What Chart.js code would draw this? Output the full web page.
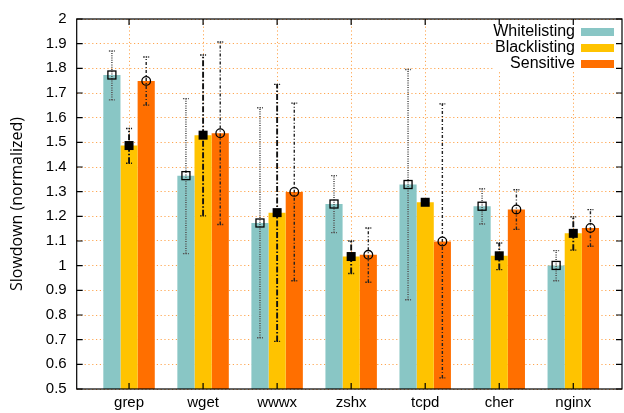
<!DOCTYPE html>
<html lang="en">
<head>
    <meta charset="UTF-8">
    <title>Slowdown</title>
    <script src="https://cdn.jsdelivr.net/npm/chart.js"></script>
    <style>
        body { margin: 0; background: #fff; }
        #wrap { width: 624px; height: 413px; }
    </style>
</head>
<body>
    <div id="wrap"><canvas id="slowChart"></canvas></div>

    <script>
        const categories = ["grep", "wget", "wwwx", "zshx", "tcpd", "cher", "nginx"];
        const seriesNames = ["Whitelisting", "Blacklisting", "Sensitive"];

        const whitelisting = [1.773, 1.365, 1.173, 1.250, 1.329, 1.241, 1.001];
        const whiteLow     = [1.672, 1.049, 0.708, 1.134, 0.862, 1.169, 0.939];
        const whiteHigh    = [1.870, 1.677, 1.640, 1.365, 1.795, 1.312, 1.061];

        const blacklisting = [1.487, 1.529, 1.215, 1.037, 1.257, 1.040, 1.131];
        const blackLow     = [1.415, 1.202, 0.693, 0.968, 1.252, 0.984, 1.063];
        const blackHigh    = [1.556, 1.854, 1.735, 1.100, 1.262, 1.092, 1.198];

        const sensitive    = [1.749, 1.537, 1.299, 1.044, 1.098, 1.228, 1.153];
        const sensLow      = [1.651, 1.167, 0.939, 0.933, 0.545, 1.147, 1.079];
        const sensHigh     = [1.846, 1.907, 1.659, 1.153, 1.656, 1.308, 1.227];

        const yTicks = [0.5, 0.6, 0.7, 0.8, 0.9, 1, 1.1, 1.2, 1.3, 1.4, 1.5, 1.6, 1.7, 1.8, 1.9, 2];

        const colors = ["#89c6c5", "#ffc300", "#ff6f00"];
        const lows = [whiteLow, blackLow, sensLow];
        const highs = [whiteHigh, blackHigh, sensHigh];
        // error bar line styles per series
        const errStyles = [
            { color: "#555", width: 1.6, dash: [1, 1.3] },
            { color: "#111", width: 1.9, dash: [6, 2, 1.5, 2] },
            { color: "#222", width: 1.4, dash: [3, 2, 1, 2] }
        ];
        const gridColor = "rgba(255, 150, 50, 0.85)";

        function toPoints(values) {
            return values.map((v, i) => ({ x: i, y: v }));
        }

        const errorBars = {
            id: "errorBars",
            afterDatasetsDraw(chart) {
                const ctx = chart.ctx;
                const yScale = chart.scales.y;
                chart.data.datasets.forEach((ds, d) => {
                    const meta = chart.getDatasetMeta(d);
                    const st = errStyles[d];
                    meta.data.forEach((bar, i) => {
                        const x = bar.x;
                        const yLo = yScale.getPixelForValue(lows[d][i]);
                        const yHi = yScale.getPixelForValue(highs[d][i]);
                        ctx.save();
                        ctx.strokeStyle = st.color;
                        ctx.lineWidth = st.width;
                        ctx.setLineDash(st.dash);
                        ctx.beginPath();
                        ctx.moveTo(x, yLo);
                        ctx.lineTo(x, yHi);
                        ctx.stroke();
                        ctx.setLineDash([1.5, 1]);
                        ctx.lineWidth = 1.4;
                        ctx.beginPath();
                        ctx.moveTo(x - 3, yLo); ctx.lineTo(x + 3, yLo);
                        ctx.moveTo(x - 3, yHi); ctx.lineTo(x + 3, yHi);
                        ctx.stroke();
                        ctx.setLineDash([]);
                        // marker
                        const y = bar.y;
                        ctx.lineWidth = 1.3;
                        ctx.strokeStyle = "#000";
                        if (d === 0) {
                            ctx.strokeRect(x - 4, y - 4, 8, 8);
                        } else if (d === 1) {
                            ctx.fillStyle = "#000";
                            ctx.fillRect(x - 4.5, y - 4.5, 9, 9);
                        } else {
                            ctx.beginPath();
                            ctx.arc(x, y, 4.3, 0, Math.PI * 2);
                            ctx.stroke();
                        }
                        ctx.restore();
                    });
                });
            },
            afterDraw(chart) {
                const ctx = chart.ctx;
                const a = chart.chartArea;
                const xs = chart.scales.x, ys = chart.scales.y;
                ctx.save();
                // legend background
                ctx.fillStyle = "#fff";
                ctx.fillRect(a.right - 127, a.top + 1, 126, 52);
                // frame
                ctx.strokeStyle = "#000";
                ctx.lineWidth = 1.2;
                ctx.strokeRect(a.left, a.top, a.right - a.left, a.bottom - a.top);
                // inward ticks
                ctx.beginPath();
                ys.ticks.forEach(t => {
                    const y = ys.getPixelForValue(t.value);
                    ctx.moveTo(a.left, y); ctx.lineTo(a.left + 6, y);
                    ctx.moveTo(a.right, y); ctx.lineTo(a.right - 6, y);
                });
                xs.ticks.forEach(t => {
                    const x = xs.getPixelForValue(t.value);
                    ctx.moveTo(x, a.top); ctx.lineTo(x, a.top + 6);
                    ctx.moveTo(x, a.bottom); ctx.lineTo(x, a.bottom - 6);
                });
                ctx.stroke();
                // legend
                ctx.font = "16px 'Liberation Sans', Arial, sans-serif";
                ctx.textAlign = "right";
                ctx.textBaseline = "middle";
                chart.data.datasets.forEach((ds, d) => {
                    const y = a.top + 13 + d * 16;
                    ctx.fillStyle = "#000";
                    ctx.fillText(ds.label, a.right - 47, y);
                    ctx.fillStyle = ds.backgroundColor;
                    ctx.fillRect(a.right - 41, y - 4, 33, 8);
                });
                ctx.restore();
            }
        };

        new Chart(document.getElementById("slowChart"), {
            type: "bar",
            data: {
                datasets: [
                    { label: seriesNames[0], data: toPoints(whitelisting), backgroundColor: colors[0] },
                    { label: seriesNames[1], data: toPoints(blacklisting), backgroundColor: colors[1] },
                    { label: seriesNames[2], data: toPoints(sensitive), backgroundColor: colors[2] }
                ]
            },
            options: {
                responsive: true,
                maintainAspectRatio: false,
                animation: false,
                layout: { padding: { top: 9, right: 2, left: 0, bottom: 0 } },
                datasets: { bar: { barPercentage: 1, categoryPercentage: 0.695, borderWidth: 0 } },
                plugins: { legend: { display: false }, tooltip: { enabled: false } },
                scales: {
                    x: {
                        type: "linear",
                        offset: false,
                        min: -0.707,
                        max: 6.658,
                        afterBuildTicks: s => { s.ticks = categories.map((c, i) => ({ value: i })); },
                        afterFit: s => { s.height = 24; },
                        grid: { color: gridColor, drawTicks: false, lineWidth: 1, offset: false },
                        border: { display: false, dash: [1.2, 2.6] },
                        ticks: {
                            padding: 5,
                            color: "#000",
                            font: { family: "'Liberation Sans', Arial, sans-serif", size: 15 },
                            callback: v => categories[v]
                        }
                    },
                    y: {
                        min: 0.5,
                        max: 2,
                        afterBuildTicks: s => { s.ticks = yTicks.map(v => ({ value: v })); },
                        afterFit: s => { s.width = 76.7; },
                        grid: { color: gridColor, drawTicks: false, lineWidth: 1 },
                        border: { display: false, dash: [1.2, 2.6] },
                        ticks: {
                            padding: 10,
                            color: "#000",
                            font: { family: "'Liberation Sans', Arial, sans-serif", size: 15 },
                            callback: v => String(+v.toFixed(1))
                        },
                        title: {
                            display: true,
                            text: "Slowdown (normalized)",
                            color: "#000",
                            padding: { top: 8, bottom: 0 },
                            font: { family: "'Open Sans', sans-serif", size: 16, weight: "normal" }
                        }
                    }
                }
            },
            plugins: [errorBars]
        });
    </script>
</body>
</html>
